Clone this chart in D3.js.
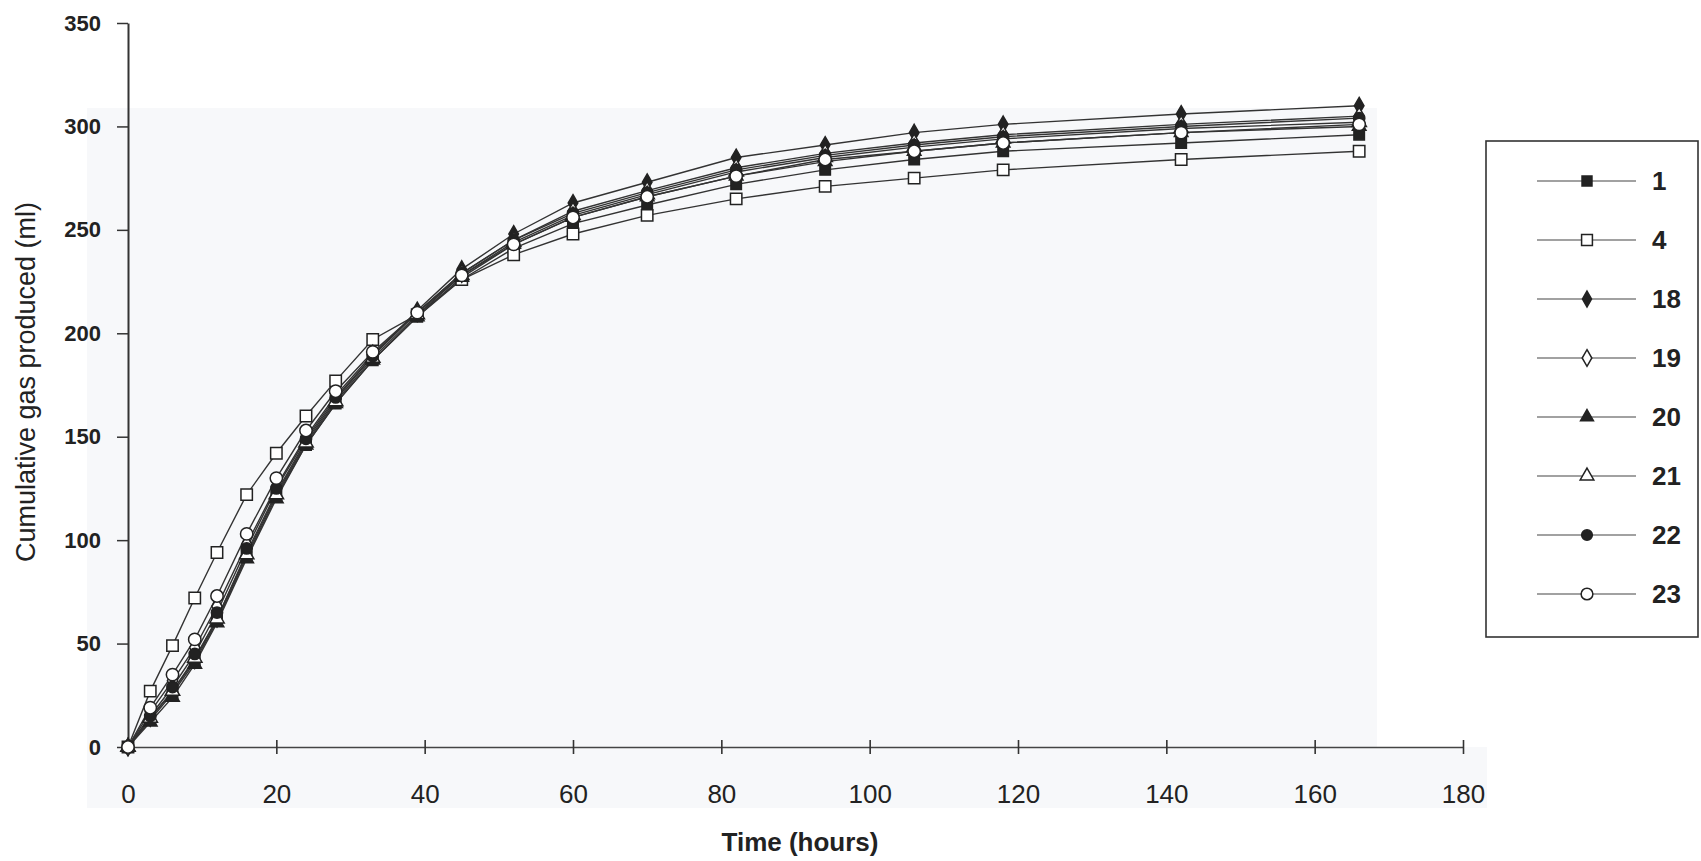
<!DOCTYPE html>
<html>
<head>
<meta charset="utf-8">
<script src="https://cdn.jsdelivr.net/npm/d3@7"></script>
<style>
  body { margin: 0; background: #fff; }
  svg text { font-family: "Liberation Sans", Arial, sans-serif; fill: #222; }
</style>
</head>
<body>
<div id="wrapper"></div>
<script>
//time points (hours)
const times = [0, 3, 6, 9, 12, 16, 20, 24, 28, 33, 39, 45, 52, 60, 70, 82, 94, 106, 118, 142, 166]

//cumulative gas (ml) for each sample
const gas1  = [0, 13, 26, 41, 61, 92, 121, 146, 166, 187, 208, 226, 241, 253, 262, 272, 279, 284, 288, 292, 296]
const gas4  = [0, 27, 49, 72, 94, 122, 142, 160, 177, 197, 209, 226, 238, 248, 257, 265, 271, 275, 279, 284, 288]
const gas18 = [0, 14, 27, 42, 62, 94, 123, 148, 168, 189, 211, 231, 248, 263, 273, 285, 291, 297, 301, 306, 310]
const gas19 = [0, 17, 32, 48, 68, 98, 126, 150, 170, 190, 210, 229, 245, 259, 269, 280, 287, 292, 296, 301, 305]
const gas20 = [0, 12, 24, 40, 60, 91, 120, 146, 166, 187, 208, 227, 243, 256, 266, 276, 283, 288, 292, 297, 300]
const gas21 = [0, 14, 27, 43, 62, 93, 122, 147, 167, 188, 209, 228, 244, 257, 267, 278, 285, 290, 294, 299, 302]
const gas22 = [0, 15, 29, 45, 65, 96, 125, 149, 169, 189, 210, 229, 245, 258, 268, 279, 286, 291, 295, 300, 304]
const gas23 = [0, 19, 35, 52, 73, 103, 130, 153, 172, 191, 210, 228, 243, 256, 266, 276, 284, 288, 292, 297, 301]

const seriesNames = ["1", "4", "18", "19", "20", "21", "22", "23"]
const seriesValues = [gas1, gas4, gas18, gas19, gas20, gas21, gas22, gas23]

const xTicks = [0, 20, 40, 60, 80, 100, 120, 140, 160, 180]
const yTicks = [0, 50, 100, 150, 200, 250, 300, 350]

function drawLineChart(){
    //marker look for each sample, in legend order
    const markerStyle = [
        {shape: d3.symbolSquare,   size: 110, filled: true},
        {shape: d3.symbolSquare,   size: 130, filled: false},
        {shape: d3.symbolDiamond,  size: 80,  filled: true},
        {shape: d3.symbolDiamond,  size: 90,  filled: false},
        {shape: d3.symbolTriangle, size: 80,  filled: true},
        {shape: d3.symbolTriangle, size: 90,  filled: false},
        {shape: d3.symbolCircle,   size: 100, filled: true},
        {shape: d3.symbolCircle,   size: 120, filled: false},
    ]

    const series = seriesNames.map((name, i) => ({
        name: name,
        style: markerStyle[i],
        points: times.map((t, j) => ({t: t, v: seriesValues[i][j]}))
    }))

    const xAccessor = d => d.t
    const yAccessor = d => d.v

    let dimensions = {
        width: 1701,
        height: 861,
        margin: {
            top: 23,
            right: 238,
            bottom: 114,
            left: 128,
        },
    }
    dimensions.boundedWidth = dimensions.width - dimensions.margin.left - dimensions.margin.right
    dimensions.boundedHeight = dimensions.height - dimensions.margin.top - dimensions.margin.bottom

    const wrapper = d3.select("#wrapper").append("svg")
        .attr("width", dimensions.width)
        .attr("height", dimensions.height)

    //faint tone of the scanned page
    wrapper.append("rect")
        .attr("x", 87).attr("y", 108)
        .attr("width", 1290).attr("height", 700)
        .attr("fill", "#f7f8fa")
    wrapper.append("rect")
        .attr("x", 87).attr("y", 747)
        .attr("width", 1400).attr("height", 61)
        .attr("fill", "#f7f8fa")

    const bounds = wrapper.append("g")
        .attr("transform", `translate(${dimensions.margin.left},${dimensions.margin.top})`)

    //scales
    const xScale = d3.scaleLinear()
        .domain([0, 180])
        .range([0, dimensions.boundedWidth])

    const yScale = d3.scaleLinear()
        .domain([0, 350])
        .range([dimensions.boundedHeight, 0])

    //axes
    const yAxisGenerator = d3.axisLeft(yScale)
        .tickValues(yTicks)
        .tickSizeInner(11)
        .tickSizeOuter(0)
        .tickPadding(16)

    const yAxis = bounds.append("g")
        .call(yAxisGenerator)
    yAxis.select(".domain").attr("stroke", "#333").attr("stroke-width", 2)
    yAxis.selectAll(".tick line").attr("stroke", "#333").attr("stroke-width", 1.5)
    yAxis.selectAll(".tick text")
        .style("font-size", "22px")
        .style("font-weight", "bold")
        .style("fill", "#222")

    const xAxisGenerator = d3.axisBottom(xScale)
        .tickValues(xTicks)
        .tickSizeInner(6)
        .tickSizeOuter(0)
        .tickPadding(32)

    const xAxis = bounds.append("g")
        .attr("transform", `translate(0,${dimensions.boundedHeight})`)
        .call(xAxisGenerator)
    xAxis.select(".domain").attr("stroke", "#444").attr("stroke-width", 1.6)
    xAxis.selectAll(".tick line")
        .attr("y1", -7)
        .attr("y2", 7)
        .attr("stroke", "#333")
        .attr("stroke-width", 1.6)
    xAxis.selectAll(".tick text")
        .style("font-size", "26px")
        .style("fill", "#222")

    //axis titles
    wrapper.append("text")
        .attr("transform", "translate(26,382) rotate(-90)")
        .attr("text-anchor", "middle")
        .attr("dominant-baseline", "central")
        .style("font-size", "27px")
        .text("Cumulative gas produced (ml)")

    wrapper.append("text")
        .attr("x", 800)
        .attr("y", 851)
        .attr("text-anchor", "middle")
        .style("font-size", "26px")
        .style("font-weight", "bold")
        .text("Time (hours)")

    //lines
    const lineGenerator = d3.line()
        .x(d => xScale(xAccessor(d)))
        .y(d => yScale(yAccessor(d)))

    bounds.selectAll(".series-line")
        .data(series)
        .join("path")
        .attr("class", "series-line")
        .attr("d", d => lineGenerator(d.points))
        .attr("fill", "none")
        .attr("stroke", "#333")
        .attr("stroke-width", 1.4)

    //markers
    const markerGroups = bounds.selectAll(".series-markers")
        .data(series)
        .join("g")
        .attr("class", "series-markers")

    markerGroups.selectAll("path")
        .data(d => d.points.map(p => ({p: p, style: d.style})))
        .join("path")
        .attr("transform", d => `translate(${xScale(xAccessor(d.p))},${yScale(yAccessor(d.p))})`)
        .attr("d", d => d3.symbol(d.style.shape, d.style.size)())
        .attr("fill", d => d.style.filled ? "#222" : "#fff")
        .attr("stroke", "#222")
        .attr("stroke-width", 1.5)

    //legend
    const legend = wrapper.append("g")
        .attr("transform", "translate(1486,141)")

    legend.append("rect")
        .attr("width", 212)
        .attr("height", 496)
        .attr("fill", "#fff")
        .attr("stroke", "#333")
        .attr("stroke-width", 1.6)

    const legendY = d3.scalePoint()
        .domain(seriesNames)
        .range([40, 453])

    const items = legend.selectAll(".legend-item")
        .data(series)
        .join("g")
        .attr("class", "legend-item")
        .attr("transform", d => `translate(0,${legendY(d.name)})`)

    items.append("line")
        .attr("x1", 51).attr("x2", 150)
        .attr("stroke", "#444")
        .attr("stroke-width", 1.1)

    items.append("path")
        .attr("transform", "translate(101,0)")
        .attr("d", d => d3.symbol(d.style.shape, d.style.size * 0.9)())
        .attr("fill", d => d.style.filled ? "#222" : "#fff")
        .attr("stroke", "#222")
        .attr("stroke-width", 1.5)

    items.append("text")
        .attr("x", 166)
        .attr("dominant-baseline", "central")
        .style("font-size", "26px")
        .style("font-weight", "bold")
        .text(d => d.name)
}

drawLineChart()
</script>
</body>
</html>
